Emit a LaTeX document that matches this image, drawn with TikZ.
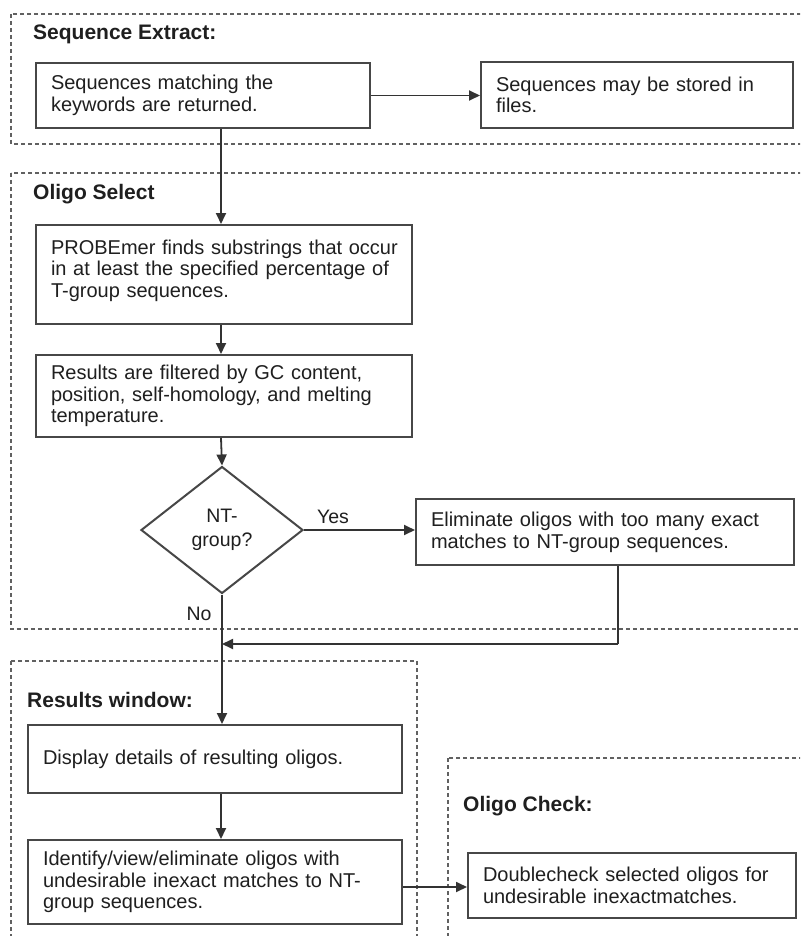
\documentclass[tikz,border=0pt]{standalone}
\usepackage{fontspec}
\setmainfont{Liberation Sans}
\usetikzlibrary{shapes.geometric,arrows.meta,calc}
\begin{document}
\begin{tikzpicture}[x=1pt,y=-1pt,
  every node/.style={text=black!88},
  proc/.style={draw=black!72, line width=2pt, rectangle, anchor=north west,
    inner xsep=15pt, inner ysep=0pt, align=left,
    font=\fontsize{20}{21.7}\selectfont},
  region/.style={draw=black!62, line width=1.3pt, dash pattern=on 4pt off 3pt},
  title/.style={anchor=base west, inner sep=0pt, font=\bfseries\fontsize{21}{24}\selectfont},
  lbl/.style={inner sep=0pt, font=\fontsize{19.5}{21}\selectfont},
  arr/.style={draw=black!80, line width=1.8pt, -{Triangle[length=11pt,width=10pt]}},
  conn/.style={draw=black!80, line width=1.8pt}]
\useasboundingbox (0,0) rectangle (800,936);
\clip (0,0) rectangle (800,936);
\fill[white] (0,0) rectangle (800,936);

% regions
\draw[region] (11,14) rectangle (815,144);
\draw[region] (11,173) rectangle (815,629);
\draw[region] (11,661) rectangle (417,950);
\draw[region] (448,758) rectangle (815,950);

\node[title] (t1) at (33,40) {Sequence Extract:};
\node[title] (t2) at (33,199) {Oligo Select};
\node[title] (t3) at (27,707) {Results window:};
\node[title] (t4) at (463,811) {Oligo Check:};

\coordinate (spine) at (221,0);

% boxes
\node[proc, minimum width=334pt, minimum height=65pt, text width=304pt] (box1) at (35,62)
  {Sequences matching the\\keywords are returned.};
\node[proc, minimum width=312pt, minimum height=66pt, text width=282pt] (box2) at (480,61)
  {Sequences may be stored in\\files.};
\node[proc, minimum width=376pt, minimum height=99pt, text width=346pt] (box3) at (35,224)
  {\mbox{PROBEmer finds substrings that occur}\\in at least the specified percentage of\\T-group sequences.\\[-10pt]\mbox{}};
\node[proc, minimum width=376pt, minimum height=82pt, text width=346pt] (box4) at (35,354)
  {Results are filtered by GC content,\\position, self-homology, and melting\\temperature.};
\node[draw=black!72, line width=2pt, diamond, minimum width=162pt, minimum height=127pt,
  inner sep=0pt, align=center, font=\fontsize{19.5}{24}\selectfont] (dia) at (222,530)
  {NT-\\group?};
\node[proc, minimum width=378pt, minimum height=66pt, text width=348pt] (elim) at (415,498)
  {Eliminate oligos with too many exact\\matches to NT-group sequences.};
\node[proc, minimum width=374pt, minimum height=68pt, text width=344pt] (box5) at (27,724)
  {Display details of resulting oligos.};
\node[proc, minimum width=374pt, minimum height=84pt, text width=344pt] (box6) at (27,839)
  {Identify/view/eliminate oligos with\\undesirable inexact matches to NT-\\group sequences.};
\node[proc, minimum width=328pt, minimum height=65pt, text width=298pt] (box7) at (467,852)
  {Doublecheck selected oligos for\\undesirable inexactmatches.};

\node[lbl] (yes) at (333,517) {Yes};
\node[lbl] (no) at (199,614) {No};

\coordinate (ret) at (618,644);
\coordinate (b6out) at ([yshift=-5pt]box6.east);

% connectors
\draw[arr] (box1.east) -- (box2.west |- box1.east);
\draw[arr] (box1.south -| spine) -- (box3.north -| spine);
\draw[arr] (box3.south -| spine) -- (box4.north -| spine);
\draw[arr] (box4.south -| spine) -- (dia.north);
\draw[arr] (dia.east) -- (elim.west |- dia.east);
\draw[conn] (elim.south -| ret) -- (ret);
\draw[arr] (ret) -- (ret -| dia.south);
\draw[arr] (dia.south) -- (box5.north -| dia.south);
\draw[arr] (box5.south -| spine) -- (box6.north -| spine);
\draw[arr] (b6out) -- (box7.west |- b6out);
\end{tikzpicture}
\end{document}
